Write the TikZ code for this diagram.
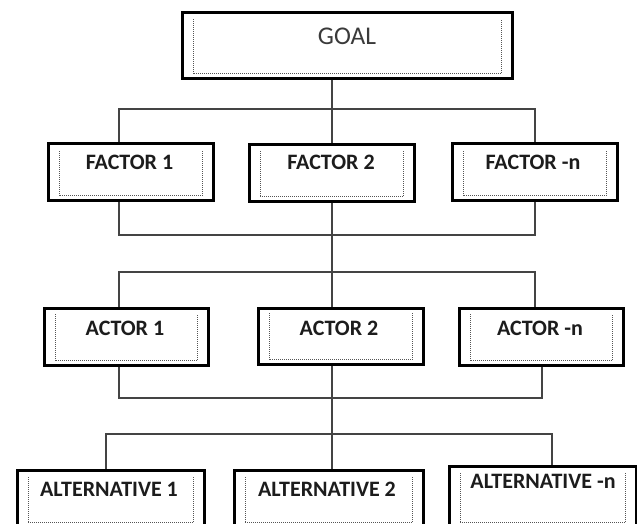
\documentclass[tikz,border=0pt]{standalone}
\usepackage{fontspec}
\setmainfont{Carlito}
\usetikzlibrary{calc}
\definecolor{txt}{HTML}{1C1C1C}
\definecolor{goaltxt}{HTML}{3A3A3A}
\definecolor{linec}{HTML}{444444}
\definecolor{dotc}{HTML}{555555}
\tikzset{
  outerbox/.style={draw=black, line width=2.6pt, fill=white, anchor=north west, inner sep=0pt},
  conn/.style={draw=linec, line width=1.3pt},
  innerdot/.style={draw=dotc, line width=0.9pt, dash pattern=on 1pt off 1pt},
  lbl/.style={text=txt, font=\fontsize{22}{26}\selectfont\bfseries, inner sep=0pt, anchor=base},
  goallbl/.style={text=goaltxt, font=\fontsize{25.5}{30}\selectfont, inner sep=0pt, anchor=base},
}
\newcommand\drawinner[2]{% name, top offset
  \draw[innerdot] ($(#1.north west)+(12,#2)$) -- ($(#1.south west)+(12,-6)$) -- ($(#1.south east)+(-12,-6)$) -- ($(#1.north east)+(-12,#2)$);}
\begin{document}
\begin{tikzpicture}[x=1pt,y=-1pt]
\clip (0,0) rectangle (637,523);
\fill[white] (0,0) rectangle (637,523);
% boxes
\node[outerbox, minimum width=330, minimum height=66] (goal) at (181,11) {};
\node[outerbox, minimum width=165, minimum height=57] (f1) at (47,142) {};
\node[outerbox, minimum width=165, minimum height=57] (f2) at (248,143) {};
\node[outerbox, minimum width=165, minimum height=57] (fn) at (451,142) {};
\node[outerbox, minimum width=164, minimum height=57] (a1) at (43,307) {};
\node[outerbox, minimum width=165, minimum height=56] (a2) at (257,307) {};
\node[outerbox, minimum width=164, minimum height=57] (an) at (458,307) {};
\node[outerbox, minimum width=187, minimum height=57] (l1) at (16,469) {};
\node[outerbox, minimum width=189, minimum height=57] (l2) at (233,469) {};
\node[outerbox, minimum width=187, minimum height=61] (ln) at (448,465) {};
% inner dotted frames
\drawinner{goal}{8}
\drawinner{f1}{9}
\drawinner{f2}{8}
\drawinner{fn}{9}
\drawinner{a1}{7}
\drawinner{a2}{6}
\drawinner{an}{7}
\drawinner{l1}{8}
\drawinner{l2}{8}
\drawinner{ln}{8}
% labels
\node[goallbl] (goalt) at (347,44) {GOAL};
\node[lbl] (f1t) at (129.5,169) {FACTOR 1};
\node[lbl] (f2t) at (331,169) {FACTOR 2};
\node[lbl] (fnt) at (533,169) {FACTOR -n};
\node[lbl] (a1t) at (125,335) {ACTOR 1};
\node[lbl] (a2t) at (339,335) {ACTOR 2};
\node[lbl] (ant) at (540,335) {ACTOR -n};
\node[lbl] (l1t) at (109,496) {ALTERNATIVE 1};
\node[lbl] (l2t) at (327,496) {ALTERNATIVE 2};
\node[lbl] (lnt) at (543,488.5) {ALTERNATIVE -n};
% bus coordinates
\coordinate (b1l) at (119,109); \coordinate (b1c) at (332,109); \coordinate (b1r) at (535,109);
\coordinate (b2l) at (119,235); \coordinate (b2c) at (332,235); \coordinate (b2r) at (535,235);
\coordinate (b3l) at (119,272); \coordinate (b3c) at (332,272); \coordinate (b3r) at (535,272);
\coordinate (b4l) at (119,398); \coordinate (b4c) at (332,398); \coordinate (b4r) at (542,398);
\coordinate (b5l) at (106,434); \coordinate (b5c) at (332,434); \coordinate (b5r) at (552,434);
% connectors
\draw[conn] (goal.south -| b1c) -- (b1c);
\draw[conn] (f1.north -| b1l) -- (b1l) -- (b1r) -- (fn.north -| b1r);
\draw[conn] (b1c) -- (f2.north -| b1c);
\draw[conn] (f1.south -| b2l) -- (b2l) -- (b2r) -- (fn.south -| b2r);
\draw[conn] (f2.south -| b2c) -- (b2c) -- (b3c);
\draw[conn] (a1.north -| b3l) -- (b3l) -- (b3r) -- (an.north -| b3r);
\draw[conn] (b3c) -- (a2.north -| b3c);
\draw[conn] (a1.south -| b4l) -- (b4l) -- (b4r) -- (an.south -| b4r);
\draw[conn] (a2.south -| b4c) -- (b4c) -- (b5c);
\draw[conn] (l1.north -| b5l) -- (b5l) -- (b5r) -- (ln.north -| b5r);
\draw[conn] (b5c) -- (l2.north -| b5c);
\end{tikzpicture}
\end{document}
